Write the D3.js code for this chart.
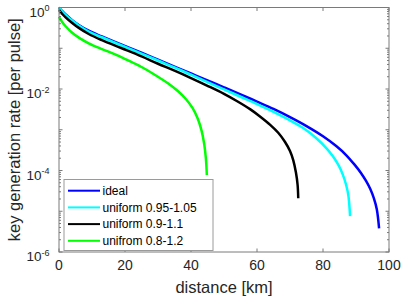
<!DOCTYPE html>
<html>
<head>
<meta charset="utf-8">
<script src="https://cdn.jsdelivr.net/npm/d3@7"></script>
<style>
  body { margin: 0; background: #fff; }
  text { font-family: "Liberation Sans", Arial, sans-serif; fill: #262626; }
</style>
</head>
<body>
<div id="chart"></div>
<script>
(function () {

  // values (rate per pulse vs distance in km)
  var idealDist = [0, 1, 2, 4, 6, 9, 13, 19, 25, 30, 35, 40, 45, 50, 55, 60, 65, 70, 75, 80, 84, 87, 89.5, 91.5, 93, 94.3, 95.4, 96.3, 97]
  var idealRate = [1, 0.813, 0.676, 0.490, 0.372, 0.269, 0.195, 0.123, 0.0776, 0.0525, 0.0355, 0.0240, 0.0162, 0.0110,
    7.41e-3, 4.90e-3, 3.24e-3, 2.04e-3, 1.23e-3, 6.92e-4, 3.98e-4, 2.40e-4, 1.41e-4, 8.71e-5, 5.62e-5, 3.55e-5,
    2.09e-5, 1.12e-5, 3.80e-6]

  var u95Dist = [0, 1, 2, 4, 6, 9, 13, 19, 25, 30, 35, 40, 45, 50, 55, 60, 65, 70, 74, 78, 81, 83, 84.7, 86, 87, 87.7, 88.2]
  var u95Rate = [1, 0.794, 0.661, 0.479, 0.363, 0.257, 0.186, 0.117, 0.0741, 0.0501, 0.0339, 0.0224, 0.0148,
    9.77e-3, 6.46e-3, 4.27e-3, 2.75e-3, 1.70e-3, 1.10e-3, 6.17e-4, 3.55e-4, 2.24e-4, 1.35e-4, 7.94e-5, 4.47e-5,
    2.40e-5, 7.59e-6]

  var u90Dist = [0, 1, 2, 4, 6, 9, 13, 19, 25, 30, 35, 40, 45, 50, 54, 58, 61, 64, 66.5, 68.5, 70, 71, 71.8, 72.3, 72.5]
  var u90Rate = [0.871, 0.692, 0.575, 0.417, 0.316, 0.224, 0.158, 0.1, 0.0631, 0.0417, 0.0282, 0.0186, 0.0120,
    7.59e-3, 5.01e-3, 3.16e-3, 2.09e-3, 1.32e-3, 8.32e-4, 5.01e-4, 3.02e-4, 1.78e-4, 8.91e-5, 4.47e-5, 2.09e-5]

  var u80Dist = [0, 1, 2, 4, 6, 9, 13, 17, 21, 25, 29, 33, 36, 38.5, 40.5, 42, 43.2, 44, 44.5, 44.8]
  var u80Rate = [0.589, 0.437, 0.347, 0.240, 0.182, 0.132, 0.0955, 0.0708, 0.0501, 0.0347, 0.0224, 0.0138,
    8.91e-3, 5.62e-3, 3.39e-3, 1.91e-3, 9.55e-4, 4.47e-4, 2.00e-4, 7.76e-5]

  var seriesNames = ['ideal', 'uniform 0.95-1.05', 'uniform 0.9-1.1', 'unifrom 0.8-1.2']
  var seriesColors = ['#0000ff', '#00ffff', '#000000', '#00ff00']
  var xTicks = [0, 20, 40, 60, 80, 100]
  var yLabelExps = [0, -2, -4, -6]

  var series = [
    {dist: idealDist, rate: idealRate},
    {dist: u95Dist, rate: u95Rate},
    {dist: u90Dist, rate: u90Rate},
    {dist: u80Dist, rate: u80Rate}
  ]

  var width = 408, height = 300
  var left = 59, right = 389, top = 7.5, bottom = 252

  var svg = d3.select('#chart').append('svg')
    .attr('width', width)
    .attr('height', height)

  var x = d3.scaleLinear().domain([0, 100]).range([left, right])
  var y = d3.scaleLog().domain([1e-6, 1]).range([bottom, top])

  // curves
  var line = d3.line()
    .x(d => x(d[0]))
    .y(d => y(d[1]))
    .curve(d3.curveCatmullRom.alpha(0.5))

  svg.append('g').selectAll('path')
    .data(series.map(s => s.dist.map((d, i) => [d, s.rate[i]])))
    .enter().append('path')
    .attr('d', line)
    .attr('fill', 'none')
    .attr('stroke', (d, i) => seriesColors[i])
    .attr('stroke-width', 2.5)

  // axes box
  var axisColor = '#7a7a7a'
  svg.append('rect')
    .attr('x', left).attr('y', top)
    .attr('width', right - left).attr('height', bottom - top)
    .attr('fill', 'none').attr('stroke', axisColor).attr('stroke-width', 1)

  // x ticks, bottom and top, pointing in
  var tk = svg.append('g').attr('stroke', axisColor).attr('stroke-width', 1)
  xTicks.forEach(function (t) {
    tk.append('line').attr('x1', x(t)).attr('x2', x(t)).attr('y1', bottom).attr('y2', bottom - 3.5)
    tk.append('line').attr('x1', x(t)).attr('x2', x(t)).attr('y1', top).attr('y2', top + 3.5)
  })
  svg.append('g').selectAll('text')
    .data(xTicks)
    .enter().append('text')
    .attr('x', d => x(d))
    .attr('y', 270)
    .attr('text-anchor', 'middle')
    .attr('font-size', 14)
    .text(d => d)

  // y ticks: majors at each decade, minors 2..9
  for (var e = -6; e <= 0; e++) {
    var v = Math.pow(10, e)
    tk.append('line').attr('x1', left).attr('x2', left + 3.5).attr('y1', y(v)).attr('y2', y(v))
    tk.append('line').attr('x1', right).attr('x2', right - 3.5).attr('y1', y(v)).attr('y2', y(v))
    if (e < 0) {
      for (var m = 2; m <= 9; m++) {
        var mv = m * v
        tk.append('line').attr('x1', left).attr('x2', left + 2).attr('y1', y(mv)).attr('y2', y(mv))
        tk.append('line').attr('x1', right).attr('x2', right - 2).attr('y1', y(mv)).attr('y2', y(mv))
      }
    }
  }

  var yl = svg.append('g').selectAll('text')
    .data(yLabelExps)
    .enter().append('text')
    .attr('x', 49.5)
    .attr('y', d => y(Math.pow(10, d)) + 9)
    .attr('text-anchor', 'end')
    .attr('font-size', 13.5)
  yl.append('tspan').text('10')
  yl.append('tspan').attr('dy', -5.5).attr('font-size', 9).text(d => d)

  // axis titles
  svg.append('text')
    .attr('x', (left + right) / 2)
    .attr('y', 293)
    .attr('text-anchor', 'middle')
    .attr('font-size', 16.5)
    .text('distance [km]')

  svg.append('text')
    .attr('transform', 'translate(20,' + ((top + bottom) / 2) + ') rotate(-90)')
    .attr('text-anchor', 'middle')
    .attr('font-size', 16.5)
    .text('key generation rate [per pulse]')

  // legend
  var lg = svg.append('g')
  lg.append('rect')
    .attr('x', 64).attr('y', 179.5)
    .attr('width', 149).attr('height', 71)
    .attr('fill', '#fff').attr('stroke', '#9a9a9a').attr('stroke-width', 1)

  var rows = lg.selectAll('g.row')
    .data(seriesNames)
    .enter().append('g')
    .attr('class', 'row')
    .attr('transform', (d, i) => 'translate(0,' + (190.7 + i * 16.7) + ')')
  rows.append('line')
    .attr('x1', 68).attr('x2', 100)
    .attr('stroke', (d, i) => seriesColors[i])
    .attr('stroke-width', 2)
  rows.append('text')
    .attr('x', 102.5)
    .attr('y', 4.3)
    .attr('font-size', 12)
    .style('fill', '#000')
    .text(d => d)

})()
</script>
</body>
</html>
